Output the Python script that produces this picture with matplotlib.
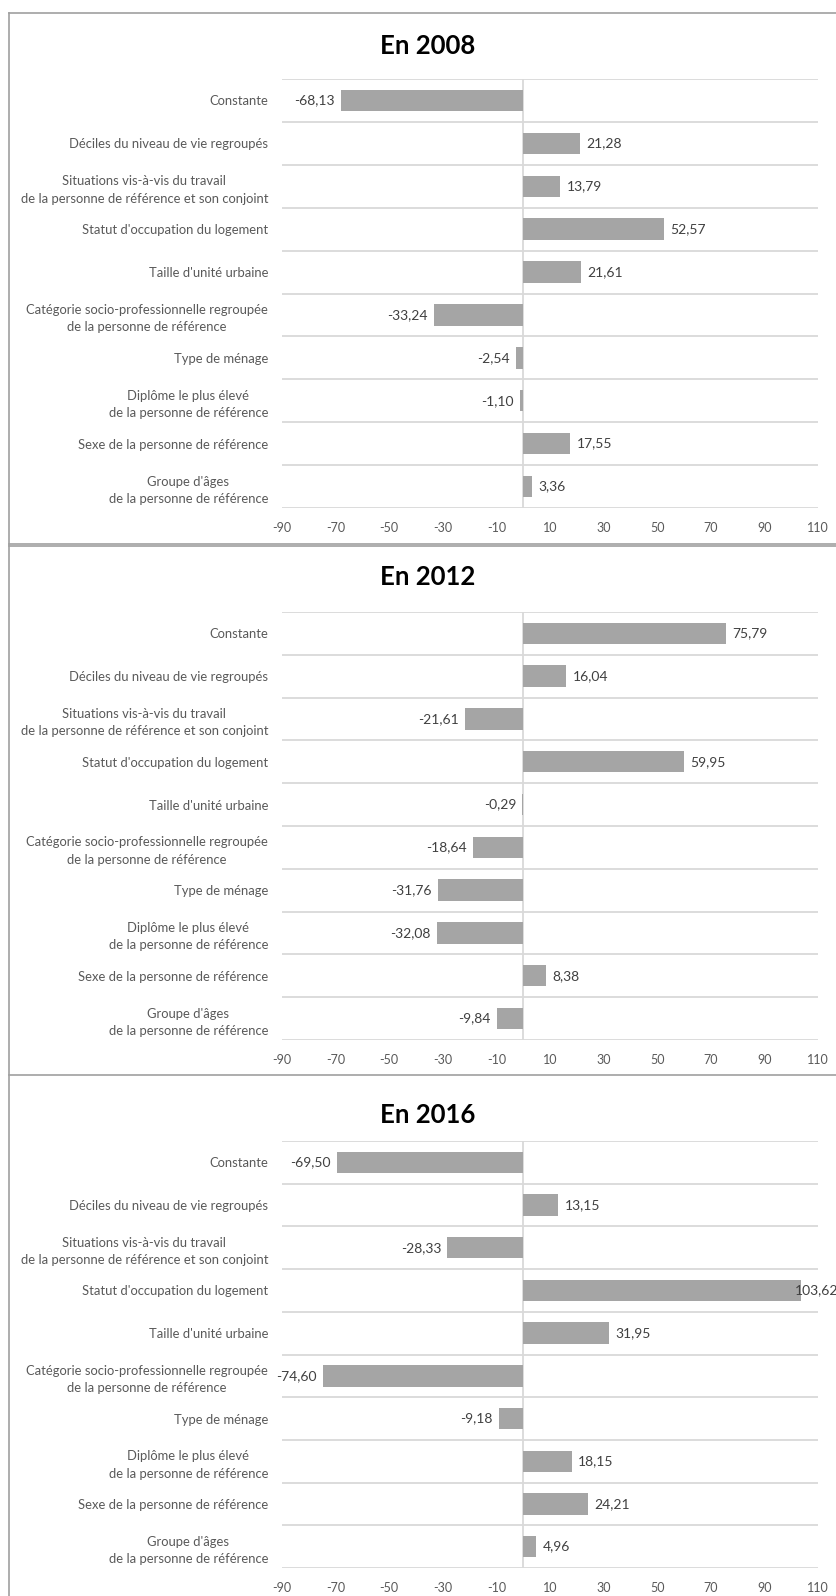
import matplotlib
matplotlib.use("Agg")
import matplotlib.pyplot as plt
from matplotlib.lines import Line2D

plt.rcParams['font.family'] = ['Lato', 'DejaVu Sans']

categories = [
    "Constante",
    "Déciles du niveau de vie regroupés",
    "Situations vis-à-vis du travail\nde la personne de référence et son conjoint",
    "Statut d'occupation du logement",
    "Taille d'unité urbaine",
    "Catégorie socio-professionnelle regroupée\nde la personne de référence",
    "Type de ménage",
    "Diplôme le plus élevé\nde la personne de référence",
    "Sexe de la personne de référence",
    "Groupe d'âges\nde la personne de référence",
]

years = ["En 2008", "En 2012", "En 2016"]
values_2008 = [-68.13, 21.28, 13.79, 52.57, 21.61, -33.24, -2.54, -1.10, 17.55, 3.36]
values_2012 = [75.79, 16.04, -21.61, 59.95, -0.29, -18.64, -31.76, -32.08, 8.38, -9.84]
values_2016 = [-69.50, 13.15, -28.33, 103.62, 31.95, -74.60, -9.18, 18.15, 24.21, 4.96]
x_ticks = [-90, -70, -50, -30, -10, 10, 30, 50, 70, 90, 110]

W, H = 837, 1596
fig = plt.figure(figsize=(W / 100, H / 100), dpi=100)

# pixel layout of each panel: (grid top, grid bottom, title centre)
panels = [(79, 508, 46), (612, 1040, 577), (1141, 1568, 1115)]
ax_left, ax_right = 282, 818

bar_color = '#A5A5A5'
grid_color = '#D9D9D9'
text_color = '#595959'

for title, vals, (top, bottom, ty) in zip(years, [values_2008, values_2012, values_2016], panels):
    ax = fig.add_axes([ax_left / W, 1 - bottom / H, (ax_right - ax_left) / W, (bottom - top) / H])
    pos = list(range(len(categories)))
    ax.barh(pos, vals, height=0.5, color=bar_color, zorder=2)
    ax.set_xlim(-90, 110)
    ax.set_ylim(len(categories) - 0.5, -0.5)
    ax.set_xticks(x_ticks)
    ax.set_xticklabels([str(t) for t in x_ticks], fontsize=9, color=text_color)
    ax.set_yticks(pos)
    ax.set_yticklabels(categories, fontsize=9.4, color=text_color, linespacing=1.55)
    for lab in ax.get_yticklabels():
        lab.set_multialignment('center')
    ax.set_yticks([p - 0.5 for p in pos] + [len(pos) - 0.5], minor=True)
    ax.tick_params(axis='both', which='both', length=0)
    ax.tick_params(axis='x', pad=10)
    ax.tick_params(axis='y', pad=10)
    ax.grid(True, which='minor', axis='y', color=grid_color, linewidth=1.3, zorder=0)
    ax.axvline(0, color=grid_color, linewidth=1.3, zorder=1)
    for s in ax.spines.values():
        s.set_visible(False)
    for p, v in zip(pos, vals):
        lab = f"{v:.2f}".replace('.', ',')
        if v < 0:
            ax.annotate(lab, (v, p), xytext=(-4.5, 0), textcoords='offset points',
                        ha='right', va='center', fontsize=10, color='#404040')
        else:
            # the widest value sits against the right edge, as in the original
            dx = 4.5 if v < 100 else -4
            ax.annotate(lab, (v, p), xytext=(dx, 0), textcoords='offset points',
                        ha='left', va='center', fontsize=10, color='#404040',
                        annotation_clip=False)
    fig.text(428 / W, 1 - ty / H, title, ha='center', va='center',
             fontsize=18.5, fontweight='bold', color='black')

# frame lines around the panels
frame = '#A0A0A0'
for y in [13, 544, 546, 1075]:
    fig.add_artist(Line2D([9 / W, 1], [1 - y / H, 1 - y / H], color=frame, linewidth=1.2))
fig.add_artist(Line2D([9 / W, 9 / W], [0, 1 - 13 / H], color=frame, linewidth=1.2))

fig.savefig("out.png", dpi=100)
